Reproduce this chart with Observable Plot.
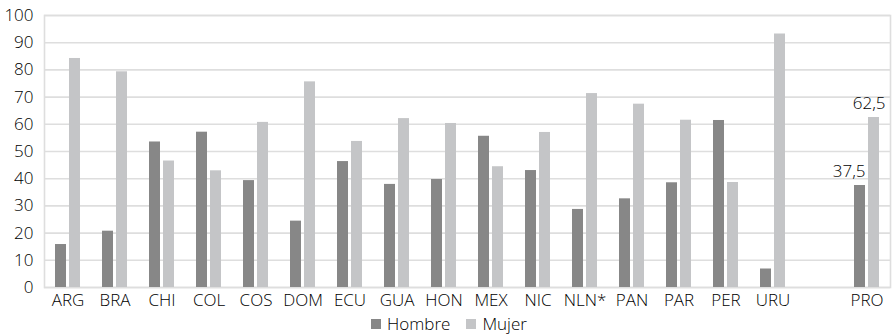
<!DOCTYPE html>
<html>
<head>
<meta charset="utf-8">
<script src="https://cdn.jsdelivr.net/npm/d3@7"></script>
<script src="https://cdn.jsdelivr.net/npm/@observablehq/plot@0.6"></script>
<style>
  body { margin: 0; background: #fff; font-family: "Open Sans", sans-serif; font-weight: 300; color: #000; }
  #chart svg { display: block; }
  .legend { display: flex; justify-content: center; align-items: center; gap: 16px; font-size: 17px; height: 24px; line-height: 24px; margin-left: 6px; padding-top: 2px; }
  .legend span { display: inline-flex; align-items: center; }
  .legend i { display: inline-block; width: 10px; height: 10px; margin-right: 6px; }
</style>
</head>
<body>
<div id="chart"></div>
<script>
// Countries (blank slot separates the regional average "PRO")
const categories = ["ARG", "BRA", "CHI", "COL", "COS", "DOM", "ECU", "GUA", "HON", "MEX", "NIC", "NLN*", "PAN", "PAR", "PER", "URU", "", "PRO"];
const countries = ["ARG", "BRA", "CHI", "COL", "COS", "DOM", "ECU", "GUA", "HON", "MEX", "NIC", "NLN*", "PAN", "PAR", "PER", "URU", "PRO"];
const hombre = [15.8, 20.7, 53.5, 57.1, 39.3, 24.4, 46.3, 37.9, 39.7, 55.6, 43.0, 28.7, 32.6, 38.5, 61.4, 6.8, 37.5];
const mujer  = [84.2, 79.3, 46.5, 42.9, 60.7, 75.6, 53.7, 62.1, 60.3, 44.4, 57.0, 71.3, 67.4, 61.5, 38.6, 93.2, 62.5];
const yTicks = [0, 10, 20, 30, 40, 50, 60, 70, 80, 90, 100];
const seriesNames = ["Hombre", "Mujer"];
const seriesColors = ["#878787", "#c4c5c7"];
const labelled = ["PRO"];

const rows = countries.flatMap((c, i) => [
  {cat: c, sexo: "Hombre", value: hombre[i]},
  {cat: c, sexo: "Mujer", value: mujer[i]}
]);
const menRows = rows.filter(d => d.sexo === "Hombre");
const womenRows = rows.filter(d => d.sexo === "Mujer");
const fmt = d => d.toFixed(1).replace(".", ",");
const grid = "#dedede";
const ink = "#000";

const chart = Plot.plot({
  width: 892,
  height: 310,
  marginTop: 15,
  marginLeft: 44,
  marginRight: 2,
  marginBottom: 23,
  style: {fontFamily: "Open Sans, sans-serif", fontSize: "17px", fontWeight: 300, color: ink, background: "#fff"},
  x: {domain: categories, padding: 0, label: null},
  y: {domain: [0, 100], ticks: yTicks, label: null},
  color: {domain: seriesNames, range: seriesColors},
  marks: [
    Plot.gridY(yTicks, {stroke: grid, strokeOpacity: 1, strokeWidth: 1.6}),
    Plot.frame({stroke: grid, strokeWidth: 1.6}),
    // paired bars inside each country band
    Plot.barY(menRows, {x: "cat", y: "value", fill: "sexo", insetLeft: 11, insetRight: 25}),
    Plot.barY(womenRows, {x: "cat", y: "value", fill: "sexo", insetLeft: 25, insetRight: 11}),
    Plot.text(menRows.filter(d => labelled.includes(d.cat)), {
      x: "cat", y: "value", text: d => fmt(d.value),
      textAnchor: "end", dx: -1.5, dy: -14, fill: ink, fontSize: 17
    }),
    Plot.text(womenRows.filter(d => labelled.includes(d.cat)), {
      x: "cat", y: "value", text: d => fmt(d.value),
      textAnchor: "end", dx: 18.5, dy: -14, fill: ink, fontSize: 17
    }),
    Plot.axisY(yTicks, {tickSize: 0, tickPadding: 11, fontSize: 17, fill: ink}),
    Plot.axisX({tickSize: 0, tickPadding: 6, fontSize: 17, fill: ink})
  ]
});
document.getElementById("chart").append(chart);

const legend = document.createElement("div");
legend.className = "legend";
seriesNames.forEach((name, i) => {
  const s = document.createElement("span");
  const sw = document.createElement("i");
  sw.style.background = seriesColors[i];
  s.append(sw, name);
  legend.append(s);
});
document.getElementById("chart").append(legend);
</script>
</body>
</html>
